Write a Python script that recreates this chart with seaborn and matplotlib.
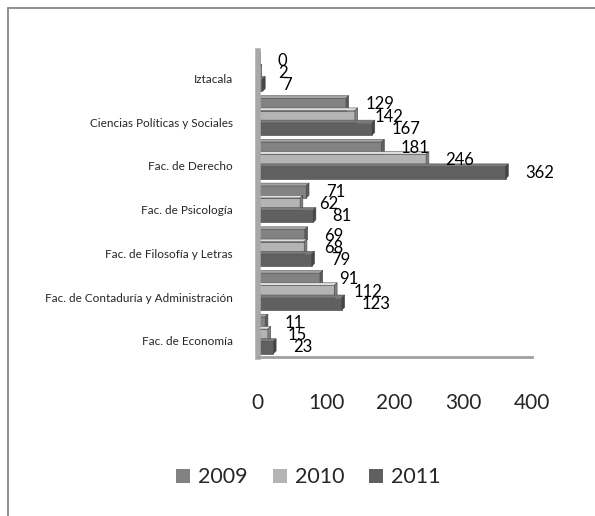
import matplotlib
matplotlib.use('Agg')
from matplotlib import pyplot as plt
from matplotlib.lines import Line2D
from matplotlib.patches import Patch, Polygon
from matplotlib.colors import to_rgb
import matplotlib.transforms as mtransforms
import seaborn as sns
import pandas as pd


# Dados
facultades = ['Iztacala', 'Ciencias Políticas y Sociales', 'Fac. de Derecho',
              'Fac. de Psicología', 'Fac. de Filosofía y Letras',
              'Fac. de Contaduría y Administración', 'Fac. de Economía']
anios = ['2009', '2010', '2011']
v2009 = [0, 129, 181, 71, 69, 91, 11]
v2010 = [2, 142, 246, 62, 68, 112, 15]
v2011 = [7, 167, 362, 81, 79, 123, 23]
colores = ['#828282', '#b4b4b4', '#606060']

df = pd.DataFrame({
    'facultad': facultades * 3,
    'anio': [a for a in anios for _ in facultades],
    'valor': v2009 + v2010 + v2011,
})

sns.set_style('white')
plt.rcParams['font.family'] = ['Lato', 'DejaVu Sans']

fig = plt.figure(figsize=(5.95, 5.16), dpi=100)
ax = fig.add_axes([0.433, 0.308, 0.4605, 0.593])

sns.barplot(data=df, y='facultad', x='valor', hue='anio', order=facultades,
            hue_order=anios, palette=colores, orient='h', width=0.84,
            edgecolor='#555555', linewidth=0.5, legend=False, ax=ax)

ax.set_xlim(0, 400)
ax.set_ylim(6.5, -0.5)

# efecto 3D sencillo: cara superior y extremo de cada barra
dx, dy = 4.0, 0.06
for p in list(ax.patches):
    x0, y0 = p.get_x(), p.get_y()
    w, h = p.get_width(), p.get_height()
    if h <= 0:
        continue
    base = to_rgb(p.get_facecolor())
    claro = tuple(min(1, c * 1.18 + 0.04) for c in base)
    oscuro = tuple(c * 0.72 for c in base)
    ax.add_patch(Polygon([(x0, y0), (x0 + dx, y0 - dy), (x0 + w + dx, y0 - dy),
                          (x0 + w, y0)], closed=True, facecolor=claro,
                         edgecolor='#555555', linewidth=0.4, zorder=p.get_zorder()))
    ax.add_patch(Polygon([(x0 + w, y0), (x0 + w + dx, y0 - dy),
                          (x0 + w + dx, y0 + h - dy), (x0 + w, y0 + h)],
                         closed=True, facecolor=oscuro, edgecolor='#444444',
                         linewidth=0.4, zorder=p.get_zorder()))

# etiquetas de valor
for cont in ax.containers:
    ax.bar_label(cont, padding=14, fontsize=12, color='black')

ax.set_xticks([0, 100, 200, 300, 400])
ax.tick_params(axis='x', labelsize=15, pad=26, length=0)
ax.tick_params(axis='y', labelsize=8.5, pad=18, length=0)
off = mtransforms.ScaledTranslation(0, -4 / 72, fig.dpi_scale_trans)
for lab in ax.get_yticklabels():
    lab.set_transform(lab.get_transform() + off)
ax.set_xlabel('')
ax.set_ylabel('')
for s in ['top', 'right']:
    ax.spines[s].set_visible(False)
ax.spines['left'].set_color('#a8a8a8')
ax.spines['left'].set_linewidth(4)
ax.spines['bottom'].set_color('#a0a0a0')
ax.spines['bottom'].set_linewidth(2)

# leyenda
handles = [Patch(facecolor=c, edgecolor='none') for c in colores]
fig.legend(handles, anios, loc='center', bbox_to_anchor=(0.518, 0.075),
           ncol=3, frameon=False, fontsize=15.5, handlelength=0.65,
           handleheight=0.65, columnspacing=1.15, handletextpad=0.37)

# marco
fig.add_artist(Line2D([0.013, 0.013], [0.0, 0.985], color='#888888', lw=1.3))
fig.add_artist(Line2D([0.013, 1.0], [0.985, 0.985], color='#888888', lw=1.3))

fig.savefig('out.png', dpi=100)
